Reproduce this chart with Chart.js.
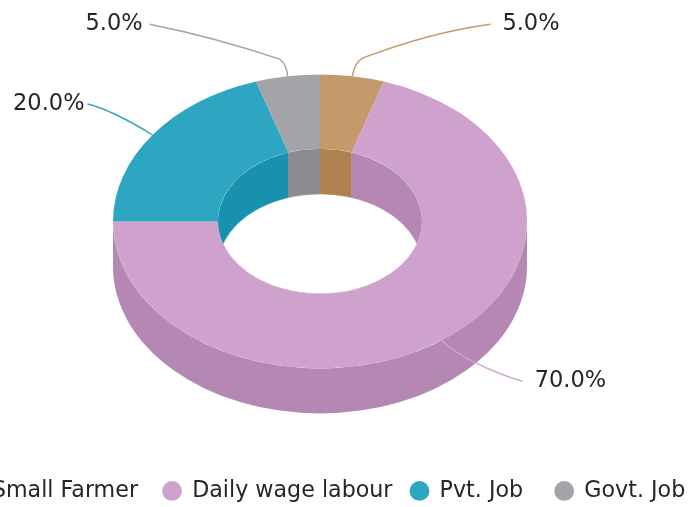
<!DOCTYPE html>
<html><head><meta charset="utf-8">
<style>
html,body{margin:0;padding:0;background:#fff;width:690px;height:507px;overflow:hidden}
canvas{position:absolute;left:-100px;top:-19px}
</style>
<script src="https://cdn.jsdelivr.net/npm/chart.js@4"></script>
</head><body>
<canvas id="c" width="840" height="531"></canvas>
<script>
const categories = ['Small Farmer','Daily wage labour','Pvt. Job','Govt. Job'];
const shares = [5,70,20,5];
const topColors = ['#C49A6C','#CFA2CD','#2EA6C2','#A3A3A8'];
const wallColors = ['#AE814F','#B587B3','#1791AD','#8C8C90'];
const legendGaps = [' ','','  ',''];

const TILT = 147/207, DEPTH = 45;
const FONT = '"DejaVu Sans"';
// leader geometry relative to each slice's anchor on the rim
const leaders = [
  {c:[2,-13], e:[10,-18], tc:[78,-44], t:[138,-52], side:1, gap:12},
  {c:[12,12], e:[33,22], tc:[57,34], t:[81,41], side:1, gap:12},
  {c:[-19,-12], e:[-36,-20], tc:[-55,-29], t:[-65,-31], side:-1, gap:3},
  {c:[-1,-12], e:[-8,-17], tc:[-73,-39], t:[-138,-52], side:-1, gap:7}
];

const threeD = {
  id:'threeD',
  afterLayout(chart){ chart.legend.left += 4; chart.legend.right += 4; },
  beforeDatasetsDraw(chart){
    const ctx = chart.ctx, arcs = chart.getDatasetMeta(0).data;
    const {x:cx,y:cy,outerRadius:R,innerRadius:r} = arcs[0];
    const rx=R, ry=R*TILT, irx=r, iry=r*TILT;
    ctx.save();
    // inner (hole) wall, clipped to the hole
    ctx.save();
    ctx.beginPath(); ctx.ellipse(cx,cy,irx,iry,0,0,Math.PI*2); ctx.clip();
    arcs.forEach((a,i)=>{
      ctx.beginPath();
      ctx.ellipse(cx,cy,irx,iry,0,a.startAngle,a.endAngle);
      ctx.ellipse(cx,cy+DEPTH,irx,iry,0,a.endAngle,a.startAngle,true);
      ctx.closePath();
      ctx.fillStyle=wallColors[i]; ctx.strokeStyle=wallColors[i]; ctx.lineWidth=.5;
      ctx.fill(); ctx.stroke();
    });
    ctx.restore();
    // outer wall: only the front half can be seen
    arcs.forEach((a,i)=>{
      const a0=Math.max(a.startAngle,0), a1=Math.min(a.endAngle,Math.PI);
      if(a1<=a0) return;
      ctx.beginPath();
      ctx.ellipse(cx,cy,rx,ry,0,a0,a1);
      ctx.ellipse(cx,cy+DEPTH,rx,ry,0,a1,a0,true);
      ctx.closePath();
      ctx.fillStyle=wallColors[i]; ctx.fill();
    });
    ctx.restore();
    // flatten the ring drawn by the library
    ctx.save();
    ctx.translate(cx,cy); ctx.scale(1,TILT); ctx.translate(-cx,-cy);
  },
  afterDatasetsDraw(chart){
    const ctx = chart.ctx, arcs = chart.getDatasetMeta(0).data;
    ctx.restore();
    const total = shares.reduce((s,v)=>s+v,0);
    arcs.forEach((a,i)=>{
      const mid=(a.startAngle+a.endAngle)/2;
      const ax=a.x+a.outerRadius*Math.cos(mid), ay=a.y+a.outerRadius*TILT*Math.sin(mid);
      const L=leaders[i];
      ctx.beginPath();
      ctx.moveTo(ax,ay);
      ctx.quadraticCurveTo(ax+L.c[0],ay+L.c[1],ax+L.e[0],ay+L.e[1]);
      ctx.quadraticCurveTo(ax+L.tc[0],ay+L.tc[1],ax+L.t[0],ay+L.t[1]);
      ctx.strokeStyle=topColors[i]; ctx.lineWidth=1.4; ctx.stroke();
      ctx.fillStyle='#262626';
      ctx.font='22.5px '+FONT;
      ctx.textBaseline='middle';
      ctx.textAlign=L.side>0?'left':'right';
      ctx.fillText((shares[i]/total*100).toFixed(1)+'%',ax+L.t[0]+L.side*L.gap,ay+L.t[1]);
    });
  }
};

new Chart(document.getElementById('c'),{
  type:'doughnut',
  data:{labels:categories,datasets:[{data:shares,backgroundColor:topColors,borderWidth:0,clip:false}]},
  options:{
    responsive:false,animation:false,
    radius:207,cutout:'49.3%',
    layout:{padding:0},
    plugins:{
      tooltip:{enabled:false},
      legend:{position:'bottom',labels:{
        font:{family:FONT,size:22.2},color:'#262626',
        usePointStyle:true,boxWidth:18,boxHeight:14,padding:18,
        generateLabels(chart){
          return categories.map((t,i)=>({text:t+legendGaps[i],fillStyle:topColors[i],strokeStyle:topColors[i],lineWidth:0,pointStyle:'circle',fontColor:'#262626',index:i,hidden:false}));
        }
      }}
    }
  },
  plugins:[threeD]
});
</script>
</body></html>
